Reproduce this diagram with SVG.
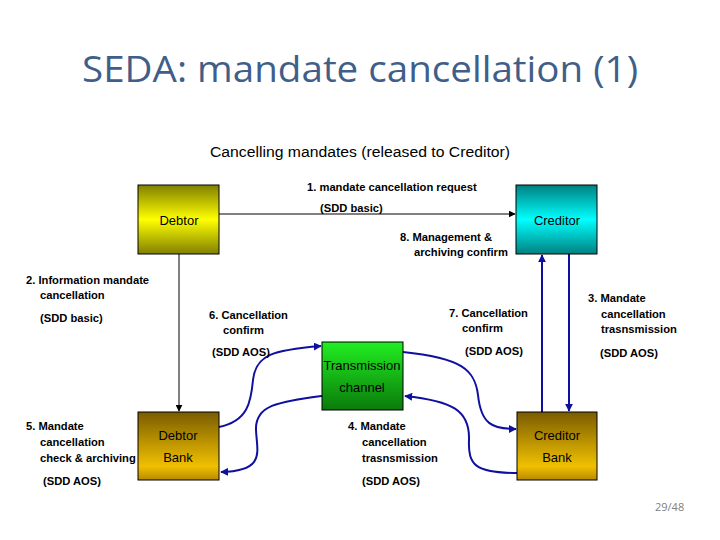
<svg xmlns="http://www.w3.org/2000/svg" width="720" height="540" viewBox="0 0 720 540">
<style>
.t{font-family:"Liberation Sans",Arial,sans-serif;font-size:11.2px;font-weight:bold;fill:#000}
.n{font-family:"Liberation Sans",Arial,sans-serif;font-size:13px;fill:#000;text-anchor:middle}
.box{stroke:#000;stroke-width:1}
.blk{fill:none;stroke:#000;stroke-width:1}
.blu{fill:none;stroke:#1010a0;stroke-width:2}
</style>
<defs>
<linearGradient id="gDeb" x1="0" y1="0" x2="0" y2="1">
<stop offset="0" stop-color="#808000"/><stop offset="0.5" stop-color="#ffff00"/><stop offset="1" stop-color="#808000"/>
</linearGradient>
<linearGradient id="gCre" x1="0" y1="0" x2="0" y2="1">
<stop offset="0" stop-color="#008080"/><stop offset="0.5" stop-color="#00ffff"/><stop offset="1" stop-color="#008080"/>
</linearGradient>
<linearGradient id="gTr" x1="0" y1="0" x2="0" y2="1">
<stop offset="0" stop-color="#22ee22"/><stop offset="1" stop-color="#0a7a0a"/>
</linearGradient>
<linearGradient id="gBank" x1="0" y1="0" x2="0" y2="1">
<stop offset="0" stop-color="#7a5c00"/><stop offset="0.8" stop-color="#f0c000"/><stop offset="1" stop-color="#b88a00"/>
</linearGradient>
<marker id="ak" viewBox="0 0 10 10" refX="9" refY="5" markerWidth="7" markerHeight="7" orient="auto" markerUnits="userSpaceOnUse">
<path d="M0,0 L10,5 L0,10 z" fill="#000"/>
</marker>
<marker id="ab" viewBox="0 0 10 10" refX="9" refY="5" markerWidth="8" markerHeight="8" orient="auto" markerUnits="userSpaceOnUse">
<path d="M0,0 L10,5 L0,10 z" fill="#1010a0"/>
</marker>
</defs>
<rect width="720" height="540" fill="#fff"/>
<text x="360" y="82" text-anchor="middle" font-family="'Open Sans','Noto Sans',sans-serif" font-size="37" fill="#3f5f8a" textLength="556" lengthAdjust="spacingAndGlyphs">SEDA: mandate cancellation (1)</text>
<text x="360" y="157" text-anchor="middle" font-family="'Liberation Sans',Arial,sans-serif" font-size="14" fill="#000" textLength="300" lengthAdjust="spacingAndGlyphs">Cancelling mandates (released to Creditor)</text>

<g id="connectors">
<line class="blk" x1="219" y1="214" x2="515" y2="214" marker-end="url(#ak)"/>
<line class="blk" x1="179" y1="254" x2="179" y2="411" marker-end="url(#ak)"/>
<line class="blu" x1="542" y1="412" x2="542" y2="255" marker-end="url(#ab)"/>
<line class="blu" x1="569" y1="254" x2="569" y2="411" marker-end="url(#ab)"/>
<path class="blu" d="M219,427 C248,421 251,402 253,380 C256,355 272,350 321,346" marker-end="url(#ab)"/>
<path class="blu" d="M322,396 C278,402 255,405 256,430 C257,452 266,471 221,472" marker-end="url(#ab)"/>
<path class="blu" d="M403,352 C462,358 475,370 478,395 C481,424 492,429 516,429" marker-end="url(#ab)"/>
<path class="blu" d="M517,473 C475,473 468,465 469,440 C470,410 452,401 405,396" marker-end="url(#ab)"/>
</g>

<g id="debtor">
<rect class="box" x="138" y="185" width="81" height="69" fill="url(#gDeb)"/>
<text class="n" x="179" y="225">Debtor</text>
</g>
<g id="creditor">
<rect class="box" x="516" y="185" width="81" height="69" fill="url(#gCre)"/>
<text class="n" x="557" y="225">Creditor</text>
</g>
<g id="transmission">
<rect class="box" x="322" y="342" width="81" height="68" fill="url(#gTr)"/>
<text class="n" x="362" y="370" fill="#0a2a0a">Transmission</text>
<text class="n" x="362" y="392" fill="#0a2a0a">channel</text>
</g>
<g id="debtor-bank">
<rect class="box" x="138" y="412" width="81" height="68" fill="url(#gBank)"/>
<text class="n" x="178" y="440">Debtor</text>
<text class="n" x="178" y="462">Bank</text>
</g>
<g id="creditor-bank">
<rect class="box" x="517" y="412" width="80" height="68" fill="url(#gBank)"/>
<text class="n" x="557" y="440">Creditor</text>
<text class="n" x="557" y="462">Bank</text>
</g>

<g id="labels">
<text class="t" x="307" y="191">1. mandate cancellation request</text>
<text class="t" x="320" y="212">(SDD basic)</text>
<text class="t" x="400" y="241">8. Management &amp;</text>
<text class="t" x="414" y="256">archiving confirm</text>
<text class="t" x="26" y="284">2. Information mandate</text>
<text class="t" x="40" y="299">cancellation</text>
<text class="t" x="40" y="322">(SDD basic)</text>
<text class="t" x="209" y="319">6. Cancellation</text>
<text class="t" x="223" y="334">confirm</text>
<text class="t" x="212" y="356">(SDD AOS)</text>
<text class="t" x="449" y="317">7. Cancellation</text>
<text class="t" x="462" y="332">confirm</text>
<text class="t" x="465" y="355">(SDD AOS)</text>
<text class="t" x="588" y="302">3. Mandate</text>
<text class="t" x="601" y="318">cancellation</text>
<text class="t" x="601" y="333">trasnsmission</text>
<text class="t" x="600" y="357">(SDD AOS)</text>
<text class="t" x="26" y="430">5. Mandate</text>
<text class="t" x="40" y="446">cancellation</text>
<text class="t" x="40" y="462">check &amp; archiving</text>
<text class="t" x="43" y="485">(SDD AOS)</text>
<text class="t" x="348" y="430">4. Mandate</text>
<text class="t" x="362" y="446">cancellation</text>
<text class="t" x="362" y="462">trasnsmission</text>
<text class="t" x="362" y="485">(SDD AOS)</text>
</g>
<text x="655" y="511" font-family="'Open Sans','Noto Sans',sans-serif" font-size="11" fill="#808080">29/48</text>
</svg>
